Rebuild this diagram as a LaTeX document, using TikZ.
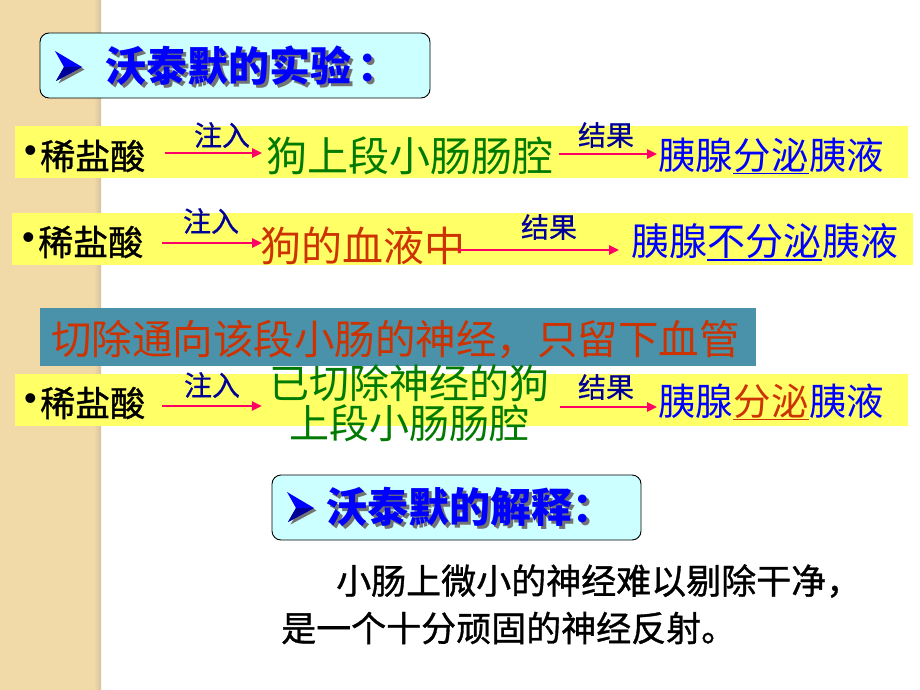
\documentclass[tikz,border=0pt]{standalone}
\usepackage{fontspec}
\setmainfont{Liberation Sans}
\newfontfamily\cjk{Noto Sans CJK SC}
\newfontfamily\cjkb[FakeBold=1]{Noto Sans CJK SC}
\newfontfamily\cjklb[FakeBold=0.6]{Noto Sans CJK SC}
\usetikzlibrary{arrows.meta}
\definecolor{striptan}{RGB}{242,217,168}
\definecolor{bandyel}{RGB}{255,255,102}
\definecolor{bandteal}{RGB}{74,146,170}
\definecolor{boxcyan}{RGB}{204,255,255}
\definecolor{txtgreen}{RGB}{0,122,0}
\definecolor{txtred}{RGB}{204,51,0}
\definecolor{txtnavy}{RGB}{0,0,153}
\definecolor{txtblue}{RGB}{0,0,255}
\definecolor{arrpink}{RGB}{255,0,102}
\newcommand\setfs[1]{\fontsize{#1}{#1}\selectfont}
\newcommand\shadowtext[1]{\makebox[0pt][l]{\hspace{3pt}\raisebox{-3pt}{\color{black!55}#1}}#1}
\begin{document}
\begin{tikzpicture}[x=1pt,y=-1pt,
  txt/.style={inner sep=0pt,anchor=west},
  cont/.style={inner sep=0pt,anchor=base west},
  arr/.style={draw=arrpink,line width=2.4pt,-{Triangle[length=10pt,width=9pt]}},
  lbl/.style={inner sep=0pt,font=\cjklb\setfs{28},text=txtnavy},
  bul/.style={inner sep=0pt,anchor=west,font=\setfs{36}},
  acid/.style={txt,font=\cjkb\setfs{35}},
  res/.style={cont,font=\cjk\setfs{37.5},text=txtblue},
  ttl/.style={txt,font=\cjk\bfseries\setfs{41}},
  uline/.style={line width=1.8pt}]
\useasboundingbox (0,0) rectangle (920,690);
\fill[white] (0,0) rectangle (920,690);
% left strip
\fill[striptan] (0,0) rectangle (101,690);
\shade[left color=striptan,right color=striptan!75!gray] (94,0) rectangle (101,690);

% ---------- title 1 ----------
\draw[fill=boxcyan,rounded corners=9pt,line width=0.9pt] (40,33) rectangle (430,98);
\begin{scope}[shift={(2.5,2.5)}]
  \fill[black!55] (55,51) -- (82,67) -- (56,81) -- (64,67) -- cycle;
\end{scope}
\fill[txtblue] (55,51) -- (82,67) -- (56,81) -- (64,67) -- cycle;
\fill[txtnavy] (64,67) -- (82,67) -- (56,81) -- cycle;
\node[ttl,text=txtblue] (t1) at (105,67) {\shadowtext{沃泰默的实验\hspace{6pt}：}};

% ---------- row 1 ----------
\fill[bandyel] (15,126) rectangle (908,178);
\node[bul] (b1) at (24,154) {•};
\node[acid] (r1a) at (40,156) {稀盐酸};
\node[txt,font=\cjk\setfs{41},text=txtgreen] (r1b) at (266,156) {狗上段小肠肠腔};
\node[txt,font=\cjk\setfs{37.5},text=txtblue] (r1c1) at (658,155) {胰腺};
\node[res] (r1c2) at (r1c1.base east) {分泌};
\node[res] (r1c3) at (r1c2.base east) {胰液};
\draw[uline,txtblue] ([yshift=-1pt]r1c2.south west) -- ([yshift=-1pt]r1c2.south east);
\draw[arr] ([xshift=20pt,yshift=3pt]r1a.east) -- ([xshift=-4pt,yshift=3pt]r1b.west);
\node[lbl] (l1a) at (222,135) {注入};
\draw[arr] ([xshift=6pt,yshift=2pt]r1b.east) -- ([xshift=-1pt,yshift=1pt]r1c1.west);
\node[lbl] (l1b) at (606,135) {结果};

% ---------- row 2 ----------
\fill[bandyel] (12,213) rectangle (913,265);
\node[bul] (b2) at (22,241) {•};
\node[acid] (r2a) at (38,242) {稀盐酸};
\node[txt,font=\cjk\setfs{41},text=txtred] (r2b) at (260,246) {狗的血液中};
\node[txt,font=\cjk\setfs{38},text=txtblue] (r2c1) at (631,241) {胰腺};
\node[res,font=\cjk\setfs{38}] (r2c2) at (r2c1.base east) {不分泌};
\node[res,font=\cjk\setfs{38}] (r2c3) at (r2c2.base east) {胰液};
\draw[uline,txtblue] ([yshift=-1pt]r2c2.south west) -- ([yshift=-1pt]r2c2.south east);
\draw[arr] ([xshift=19pt,yshift=-1pt]r2a.east) -- ([xshift=2pt,yshift=3pt]r2b.west);
\node[lbl] (l2a) at (211,221) {注入};
\draw[arr] ([xshift=-7pt,yshift=-4pt]r2b.east) -- ([xshift=-12pt,yshift=-9pt]r2c1.west);
\node[lbl] (l2b) at (549,227) {结果};

% ---------- teal band ----------
\fill[bandteal] (40,308) rectangle (756,366);
\node[txt,font=\cjk\setfs{40.5},text=txtred] (cut) at (51,340) {切除通向该段小肠的神经，只留下血管};

% ---------- row 3 ----------
\fill[bandyel] (15,374) rectangle (908,426);
\node[bul] (b3) at (24,402) {•};
\node[acid] (r3a) at (40,403) {稀盐酸};
\node[inner sep=0pt,font=\cjk\setfs{40},text=txtgreen,align=center] (r3b) at (409,403) {已切除神经的狗\\上段小肠肠腔};
\node[txt,font=\cjk\setfs{37.5},text=txtblue] (r3c1) at (658,401) {胰腺};
\node[res,text=txtred] (r3c2) at (r3c1.base east) {分泌};
\node[res] (r3c3) at (r3c2.base east) {胰液};
\draw[uline,txtred] ([yshift=-1pt]r3c2.south west) -- ([yshift=-1pt]r3c2.south east);
\draw[arr] ([xshift=17pt,yshift=-3pt]r3a.east) -- ([xshift=-7pt,yshift=-3pt]r3b.west);
\node[lbl] (l3a) at (212,385) {注入};
\draw[arr] ([xshift=11pt,yshift=-4pt]r3b.east) -- ([xshift=-1pt,yshift=-6pt]r3c1.west);
\node[lbl] (l3b) at (606,387) {结果};

% ---------- title 2 ----------
\draw[fill=boxcyan,rounded corners=9pt,line width=0.9pt] (272,475) rectangle (641,540);
\begin{scope}[shift={(234.5,443.5)}]
  \fill[black!55] (55,51) -- (82,67) -- (56,81) -- (64,67) -- cycle;
\end{scope}
\begin{scope}[shift={(232,441)}]
  \fill[txtblue] (55,51) -- (82,67) -- (56,81) -- (64,67) -- cycle;
  \fill[txtnavy] (64,67) -- (82,67) -- (56,81) -- cycle;
\end{scope}
\node[ttl,text=txtblue] (t2) at (326,508) {\shadowtext{沃泰默的解释：}};

% ---------- explanation ----------
\node[txt,font=\cjkb\setfs{35}] (p1) at (336,581) {小肠上微小的神经难以剔除干净，};
\node[txt,font=\cjkb\setfs{35}] (p2) at (281,628) {是一个十分顽固的神经反射。};
\end{tikzpicture}
\end{document}
